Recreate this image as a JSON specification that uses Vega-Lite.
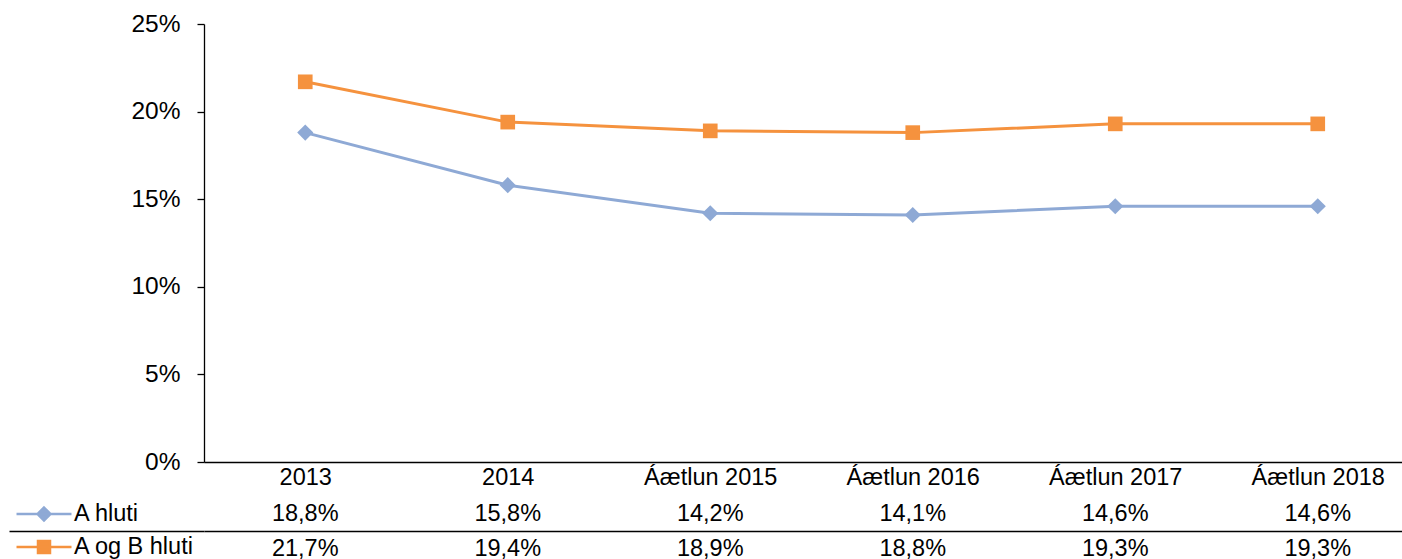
{
  "$schema": "https://vega.github.io/schema/vega-lite/v6.json",
  "padding": {"left": 8, "top": 11, "right": -16, "bottom": -7},
  "config": {
    "locale": {"number": {"decimal": ",", "thousands": ".", "grouping": [3], "currency": ["", " kr."]}},
    "font": "Liberation Sans",
    "view": {"stroke": null},
    "concat": {"spacing": 7}
  },
  "data": {
    "values": [
      {"cat": "2013", "series": "A hluti", "value": 0.188},
      {"cat": "2014", "series": "A hluti", "value": 0.158},
      {"cat": "Áætlun 2015", "series": "A hluti", "value": 0.142},
      {"cat": "Áætlun 2016", "series": "A hluti", "value": 0.141},
      {"cat": "Áætlun 2017", "series": "A hluti", "value": 0.146},
      {"cat": "Áætlun 2018", "series": "A hluti", "value": 0.146},
      {"cat": "2013", "series": "A og B hluti", "value": 0.217},
      {"cat": "2014", "series": "A og B hluti", "value": 0.194},
      {"cat": "Áætlun 2015", "series": "A og B hluti", "value": 0.189},
      {"cat": "Áætlun 2016", "series": "A og B hluti", "value": 0.188},
      {"cat": "Áætlun 2017", "series": "A og B hluti", "value": 0.193},
      {"cat": "Áætlun 2018", "series": "A og B hluti", "value": 0.193}
    ]
  },
  "vconcat": [
    {
      "width": 1215,
      "height": 438,
      "encoding": {
        "x": {
          "field": "cat", "type": "nominal", "sort": null,
          "scale": {"type": "point", "padding": 0.5},
          "axis": {"title": null, "labelAngle": 0, "ticks": false, "domain": true, "domainColor": "#000000", "domainWidth": 1.3, "labelFontSize": 23.5, "labelColor": "#000000", "labelPadding": 3}
        },
        "y": {
          "field": "value", "type": "quantitative",
          "scale": {"domain": [0, 0.25], "nice": false},
          "axis": {"title": null, "format": ".0%", "values": [0, 0.05, 0.1, 0.15, 0.2, 0.25], "grid": false, "domainColor": "#000000", "domainWidth": 1.3, "tickColor": "#000000", "tickSize": 7, "tickWidth": 1.3, "labelFontSize": 24.5, "labelColor": "#000000", "labelPadding": 17}
        },
        "color": {
          "field": "series", "type": "nominal",
          "scale": {"domain": ["A hluti", "A og B hluti"], "range": ["#8EA9D5", "#F5923E"]},
          "legend": {
            "title": null, "orient": "none", "legendX": -179, "legendY": 471, "direction": "vertical", "padding": 0,
            "labelFontSize": 23.5, "labelColor": "#000000", "symbolSize": 1225, "rowPadding": 2, "labelOffset": 11,
            "symbolStrokeWidth": 2.5, "symbolOpacity": 1
          }
        }
      },
      "layer": [
        {"mark": {"type": "line", "strokeWidth": 3}},
        {
          "transform": [{"filter": "datum.series === 'A hluti'"}],
          "mark": {"type": "point", "shape": "diamond", "filled": true, "size": 260, "opacity": 1}
        },
        {
          "transform": [{"filter": "datum.series === 'A og B hluti'"}],
          "mark": {"type": "point", "shape": "square", "filled": true, "size": 215, "opacity": 1}
        },
        {
          "mark": {"type": "point", "filled": true, "opacity": 0},
          "encoding": {
            "shape": {
              "field": "series", "type": "nominal",
              "scale": {"domain": ["A hluti", "A og B hluti"], "range": ["M-1.571,0L1.571,0M0,-0.37L0.37,0L0,0.37L-0.37,0Z", "M-1.571,0L1.571,0M-0.343,-0.343L0.343,-0.343L0.343,0.343L-0.343,0.343Z"]},
              "legend": {
                "title": null, "orient": "none", "legendX": -179, "legendY": 471, "direction": "vertical", "padding": 0,
                "labelFontSize": 23.5, "labelColor": "#000000", "symbolSize": 1225, "rowPadding": 2, "labelOffset": 11,
                "symbolStrokeWidth": 2.5, "symbolOpacity": 1
              }
            }
          }
        }
      ]
    },
    {
      "width": 1215,
      "height": 70,
      "mark": {"type": "text", "fontSize": 23.5, "color": "#000000"},
      "encoding": {
        "x": {"field": "cat", "type": "nominal", "sort": null, "scale": {"type": "point", "padding": 0.5}, "axis": null},
        "y": {
          "field": "series", "type": "nominal", "sort": ["A hluti", "A og B hluti"],
          "scale": {"type": "point", "padding": 0.5},
          "axis": {"title": null, "labels": false, "domain": false, "ticks": true, "tickSize": 195, "tickColor": "#000000", "tickWidth": 1.3, "grid": true, "gridColor": "#000000", "gridWidth": 1.3, "gridOpacity": 1, "tickOffset": 17.5}
        },
        "text": {"field": "value", "type": "quantitative", "format": ".1%"}
      }
    }
  ]
}
